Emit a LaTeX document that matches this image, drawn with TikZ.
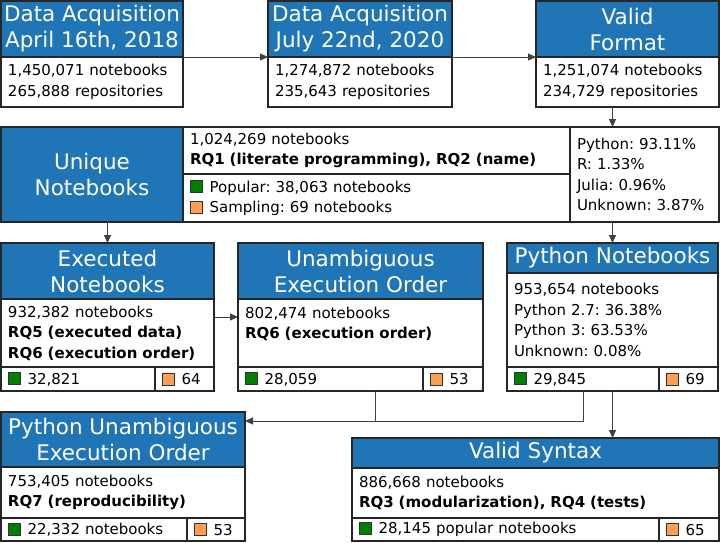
\documentclass[tikz,border=0pt]{standalone}
\usepackage{fontspec}
\setmainfont{DejaVu Sans}
\usetikzlibrary{arrows.meta}
\frenchspacing

\definecolor{headblue}{RGB}{31,117,181}
\definecolor{popgreen}{RGB}{0,128,0}
\definecolor{samporange}{RGB}{255,158,82}

\newcommand{\swatch}[1]{{\fboxsep=0pt\fboxrule=0.8pt\fcolorbox{black!80}{#1}{\rule{0pt}{11pt}\rule{11pt}{0pt}}}\hspace{7pt}}

\tikzset{
  box/.style={draw=black!85, line width=1.5pt, outer sep=0pt, anchor=north west},
  head/.style={box, fill=headblue, text=white, inner sep=0pt, align=center,
    font=\fontsize{21.5}{26}\selectfont},
  body/.style={box, inner xsep=7pt, inner ysep=2pt, align=left,
    font=\fontsize{15}{20.5}\selectfont},
  flow/.style={draw=black!75, line width=1pt},
  flowarrow/.style={flow, -{Triangle[length=8pt,width=7pt]}},
}

\begin{document}
\begin{tikzpicture}[x=1pt, y=-1pt]
\useasboundingbox (0,0) rectangle (720,542);

% first row: acquisition and format
\node[head, minimum width=182, minimum height=56] (acqAH) at (1,1) {Data Acquisition\\April 16th, 2018};
\node[body, text width=168pt, minimum height=50] (acqAB) at (acqAH.south west) {1,450,071 notebooks\\265,888 repositories};

\node[head, minimum width=184, minimum height=56] (acqBH) at (268,1) {Data Acquisition\\July 22nd, 2020};
\node[body, text width=170pt, minimum height=50] (acqBB) at (acqBH.south west) {1,274,872 notebooks\\235,643 repositories};

\node[head, minimum width=183, minimum height=56] (validH) at (536,1) {Valid\\Format};
\node[body, text width=169pt, minimum height=50] (validB) at (validH.south west) {1,251,074 notebooks\\234,729 repositories};

% second row: unique notebooks
\node[head, minimum width=182, minimum height=95] (uniqH) at (1,127) {Unique\\Notebooks};
\node[body, text width=373pt, minimum height=47] (uniqRQ) at (uniqH.north east) {1,024,269 notebooks\\\textbf{RQ1 (literate programming), RQ2 (name)}};
\node[body, text width=373pt, minimum height=48] (uniqSp) at (uniqRQ.south west) {\swatch{popgreen}Popular: 38,063 notebooks\\\swatch{samporange}Sampling: 69 notebooks};
\node[body, text width=135pt, minimum height=95] (langs) at (uniqRQ.north east) {Python: 93.11\%\\R: 1.33\%\\Julia: 0.96\%\\Unknown: 3.87\%};

% third row
\node[head, minimum width=213, minimum height=56] (execH) at (1,243) {Executed\\Notebooks};
\node[body, text width=199pt, minimum height=68] (execB) at (execH.south west) {932,382 notebooks\\\textbf{RQ5 (executed data)}\\\textbf{RQ6 (execution order)}};
\node[body, text width=140pt, minimum height=24] (execP) at (execB.south west) {\swatch{popgreen}32,821};
\node[body, text width=45pt, minimum height=24] (execS) at (execP.north east) {\swatch{samporange}64};

\node[head, minimum width=245, minimum height=56] (unambH) at (238,243) {Unambiguous\\Execution Order};
\node[body, text width=231pt, minimum height=68] (unambB) at (unambH.south west) {802,474 notebooks\\\textbf{RQ6 (execution order)}\\~};
\node[body, text width=171pt, minimum height=24] (unambP) at (unambB.south west) {\swatch{popgreen}28,059};
\node[body, text width=46pt, minimum height=24] (unambS) at (unambP.north east) {\swatch{samporange}53};

\node[head, minimum width=211, minimum height=30] (pyH) at (507,243) {Python Notebooks};
\node[body, text width=197pt, minimum height=94] (pyB) at (pyH.south west) {953,654 notebooks\\Python 2.7: 36.38\%\\Python 3: 63.53\%\\Unknown: 0.08\%};
\node[body, text width=138pt, minimum height=24] (pyP) at (pyB.south west) {\swatch{popgreen}29,845};
\node[body, text width=45pt, minimum height=24] (pyS) at (pyP.north east) {\swatch{samporange}69};

% fourth row
\node[head, minimum width=244, minimum height=55] (pyUnH) at (1,412) {Python Unambiguous\\Execution Order};
\node[body, text width=230pt, minimum height=51] (pyUnB) at (pyUnH.south west) {753,405 notebooks\\\textbf{RQ7 (reproducibility)}};
\node[body, text width=172pt, minimum height=23] (pyUnP) at (pyUnB.south west) {\swatch{popgreen}22,332 notebooks};
\node[body, text width=44pt, minimum height=23] (pyUnS) at (pyUnP.north east) {\swatch{samporange}53};

\node[head, minimum width=367, minimum height=30] (synH) at (352,438) {Valid Syntax};
\node[body, text width=353pt, minimum height=50] (synB) at (synH.south west) {886,668 notebooks\\\textbf{RQ3 (modularization), RQ4 (tests)}};
\node[body, text width=293pt, minimum height=23] (synP) at (synB.south west) {\swatch{popgreen}28,145 popular notebooks};
\node[body, text width=46pt, minimum height=23] (synS) at (synP.north east) {\swatch{samporange}65};

% connectors
\draw[flowarrow] (acqAH.south east) -- (acqBH.south west);
\draw[flowarrow] (acqBH.south east) -- (validH.south west);
\draw[flowarrow] (validB.south -| pyH.north) -- (langs.north -| pyH.north);
\draw[flowarrow] (uniqH.south -| execH.north) -- (execH.north);
\draw[flowarrow] (langs.south -| pyH.north) -- (pyH.north);
\draw[flowarrow] ([yshift=-18pt]execB.north east) -- ([yshift=-18pt]unambB.north west);

\coordinate (mergeL) at (375,421);
\coordinate (mergeR) at (583,421);
\draw[flow] (unambP.south -| mergeL) -- (mergeL);
\draw[flowarrow] (pyP.south -| mergeR) -- (mergeR) -- (mergeR -| pyUnH.east);
\draw[flowarrow] (pyP.south -| pyH.north) -- (synH.north -| pyH.north);

\end{tikzpicture}
\end{document}
